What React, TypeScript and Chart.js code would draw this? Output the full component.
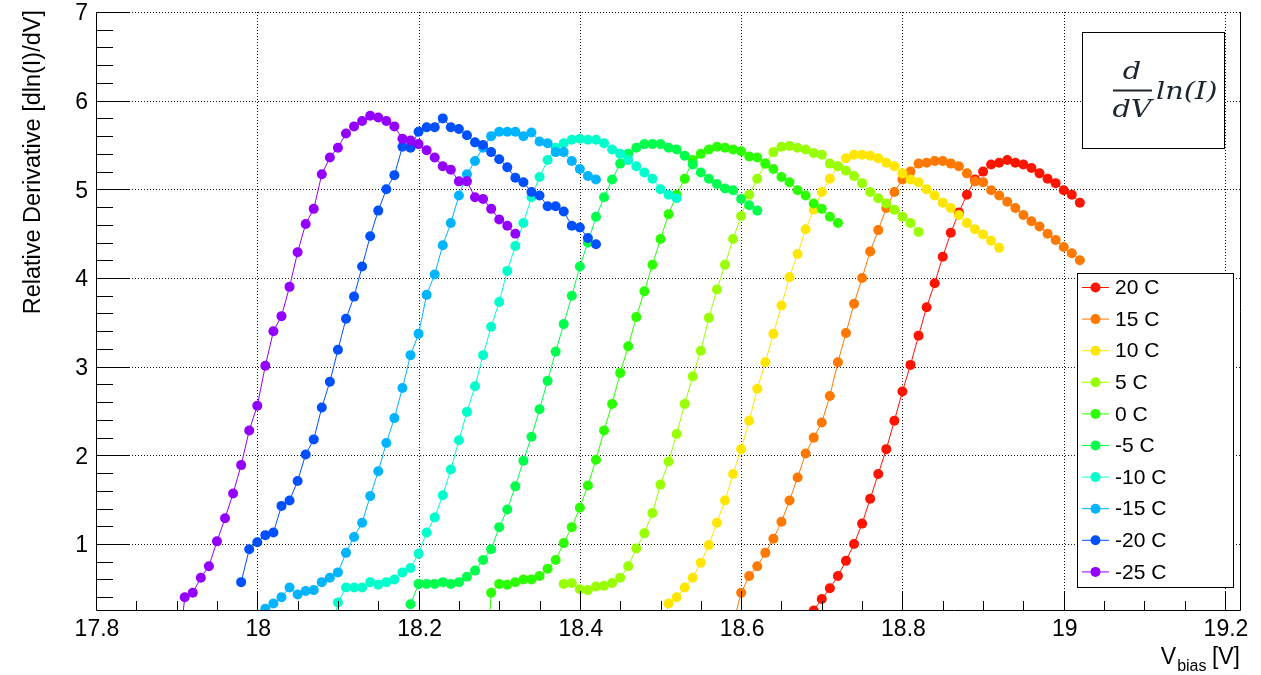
import React, { useEffect, useRef } from "react";
import { Chart, registerables } from "chart.js";

Chart.register(...registerables);

// ---------- axis ticks ----------
const xMajorTicks = [17.8, 18.0, 18.2, 18.4, 18.6, 18.8, 19.0, 19.2];
const xTickLabels = ["17.8", "18", "18.2", "18.4", "18.6", "18.8", "19", "19.2"];
const yMajorTicks = [1, 2, 3, 4, 5, 6, 7];
const yTickLabels = ["1", "2", "3", "4", "5", "6", "7"];
const X_MIN = 17.8;
const X_MAX = 19.2186;
const Y_MIN = 0.2557;
const Y_MAX = 7;

// ---------- series ----------
const seriesLabels = ["20 C", "15 C", "10 C", "5 C", "0 C", "-5 C", "-10 C", "-15 C", "-20 C", "-25 C"];
const seriesColors = ["#ff1400", "#ff7800", "#ffe600", "#99ff00", "#2bff00", "#00ff4d", "#00ffcc", "#00b4ff", "#0050ff", "#9400ff"];

const v20 = [18.69, 18.70, 18.71, 18.72, 18.73, 18.74, 18.75, 18.76, 18.77, 18.78, 18.79, 18.80, 18.81, 18.82, 18.83, 18.84, 18.85, 18.86, 18.87, 18.88, 18.89, 18.90, 18.91, 18.92, 18.93, 18.94, 18.95, 18.96, 18.97, 18.98, 18.99, 19.00, 19.01, 19.02];
const d20 = [0.25, 0.38, 0.50, 0.64, 0.81, 1.00, 1.23, 1.51, 1.79, 2.07, 2.39, 2.72, 3.02, 3.35, 3.67, 3.94, 4.24, 4.51, 4.74, 4.94, 5.11, 5.20, 5.28, 5.30, 5.33, 5.30, 5.28, 5.24, 5.18, 5.12, 5.07, 4.99, 4.94, 4.85];

const v15 = [18.59, 18.60, 18.61, 18.62, 18.63, 18.64, 18.65, 18.66, 18.67, 18.68, 18.69, 18.70, 18.71, 18.72, 18.73, 18.74, 18.75, 18.76, 18.77, 18.78, 18.79, 18.80, 18.81, 18.82, 18.83, 18.84, 18.85, 18.86, 18.87, 18.88, 18.89, 18.90, 18.91, 18.92, 18.93, 18.94, 18.95, 18.96, 18.97, 18.98, 18.99, 19.00, 19.01, 19.02];
const d15 = [0.10, 0.45, 0.64, 0.75, 0.90, 1.06, 1.25, 1.49, 1.75, 2.02, 2.20, 2.37, 2.67, 3.05, 3.38, 3.71, 4.00, 4.30, 4.54, 4.79, 4.97, 5.11, 5.20, 5.29, 5.30, 5.32, 5.32, 5.29, 5.26, 5.18, 5.09, 5.08, 4.99, 4.93, 4.86, 4.79, 4.71, 4.64, 4.58, 4.50, 4.43, 4.35, 4.28, 4.20];

const v10 = [18.50, 18.51, 18.52, 18.53, 18.54, 18.55, 18.56, 18.57, 18.58, 18.59, 18.60, 18.61, 18.62, 18.63, 18.64, 18.65, 18.66, 18.67, 18.68, 18.69, 18.70, 18.71, 18.72, 18.73, 18.74, 18.75, 18.76, 18.77, 18.78, 18.79, 18.80, 18.81, 18.82, 18.83, 18.84, 18.85, 18.86, 18.87, 18.88, 18.89, 18.90, 18.91, 18.92];
const d10 = [-0.10, 0.33, 0.40, 0.51, 0.62, 0.79, 0.99, 1.24, 1.49, 1.79, 2.07, 2.39, 2.75, 3.05, 3.37, 3.69, 4.01, 4.27, 4.55, 4.77, 4.97, 5.12, 5.26, 5.35, 5.39, 5.39, 5.38, 5.35, 5.30, 5.26, 5.18, 5.11, 5.08, 5.00, 4.93, 4.85, 4.79, 4.71, 4.62, 4.55, 4.49, 4.42, 4.34];

const v5 = [18.38, 18.39, 18.40, 18.41, 18.42, 18.43, 18.44, 18.45, 18.46, 18.47, 18.48, 18.49, 18.50, 18.51, 18.52, 18.53, 18.54, 18.55, 18.56, 18.57, 18.58, 18.59, 18.60, 18.61, 18.62, 18.63, 18.64, 18.65, 18.66, 18.67, 18.68, 18.69, 18.70, 18.71, 18.72, 18.73, 18.74, 18.75, 18.76, 18.77, 18.78, 18.79, 18.80, 18.81, 18.82];
const d5 = [0.55, 0.56, 0.49, 0.48, 0.52, 0.53, 0.56, 0.62, 0.75, 0.95, 1.12, 1.35, 1.67, 1.93, 2.24, 2.58, 2.89, 3.18, 3.55, 3.87, 4.15, 4.44, 4.70, 4.94, 5.12, 5.29, 5.42, 5.48, 5.49, 5.47, 5.45, 5.41, 5.39, 5.29, 5.26, 5.21, 5.15, 5.07, 4.97, 4.90, 4.84, 4.77, 4.69, 4.62, 4.52];

const v0 = [18.28, 18.29, 18.30, 18.31, 18.32, 18.33, 18.34, 18.35, 18.36, 18.37, 18.38, 18.39, 18.40, 18.41, 18.42, 18.43, 18.44, 18.45, 18.46, 18.47, 18.48, 18.49, 18.50, 18.51, 18.52, 18.53, 18.54, 18.55, 18.56, 18.57, 18.58, 18.59, 18.60, 18.61, 18.62, 18.63, 18.64, 18.65, 18.66, 18.67, 18.68, 18.69, 18.70, 18.71, 18.72];
const d0 = [-1.00, 0.45, 0.55, 0.54, 0.57, 0.60, 0.60, 0.64, 0.72, 0.82, 1.01, 1.19, 1.41, 1.66, 1.95, 2.28, 2.58, 2.93, 3.23, 3.56, 3.85, 4.15, 4.44, 4.72, 4.94, 5.12, 5.33, 5.40, 5.45, 5.48, 5.47, 5.45, 5.43, 5.37, 5.36, 5.29, 5.23, 5.14, 5.08, 4.99, 4.93, 4.84, 4.78, 4.69, 4.62];

const vM5 = [18.19, 18.20, 18.21, 18.22, 18.23, 18.24, 18.25, 18.26, 18.27, 18.28, 18.29, 18.30, 18.31, 18.32, 18.33, 18.34, 18.35, 18.36, 18.37, 18.38, 18.39, 18.40, 18.41, 18.42, 18.43, 18.44, 18.45, 18.46, 18.47, 18.48, 18.49, 18.50, 18.51, 18.52, 18.53, 18.54, 18.55, 18.56, 18.57, 18.58, 18.59, 18.60, 18.61, 18.62];
const dM5 = [0.32, 0.55, 0.55, 0.55, 0.57, 0.55, 0.57, 0.63, 0.70, 0.82, 0.94, 1.19, 1.39, 1.65, 1.94, 2.21, 2.52, 2.84, 3.17, 3.48, 3.80, 4.13, 4.40, 4.69, 4.91, 5.11, 5.29, 5.40, 5.47, 5.51, 5.51, 5.51, 5.47, 5.45, 5.38, 5.28, 5.19, 5.12, 5.06, 5.01, 4.99, 4.89, 4.82, 4.76];

const vM10 = [18.09, 18.10, 18.11, 18.12, 18.13, 18.14, 18.15, 18.16, 18.17, 18.18, 18.19, 18.20, 18.21, 18.22, 18.23, 18.24, 18.25, 18.26, 18.27, 18.28, 18.29, 18.30, 18.31, 18.32, 18.33, 18.34, 18.35, 18.36, 18.37, 18.38, 18.39, 18.40, 18.41, 18.42, 18.43, 18.44, 18.45, 18.46, 18.47, 18.48, 18.49, 18.50, 18.51, 18.52];
const dM10 = [-0.10, 0.34, 0.51, 0.51, 0.51, 0.57, 0.54, 0.57, 0.60, 0.68, 0.73, 0.89, 1.13, 1.30, 1.55, 1.84, 2.17, 2.49, 2.78, 3.13, 3.45, 3.73, 4.08, 4.36, 4.62, 4.91, 5.14, 5.33, 5.47, 5.52, 5.56, 5.57, 5.56, 5.56, 5.52, 5.45, 5.40, 5.33, 5.26, 5.19, 5.12, 5.00, 4.94, 4.90];

const vM15 = [18.01, 18.02, 18.03, 18.04, 18.05, 18.06, 18.07, 18.08, 18.09, 18.10, 18.11, 18.12, 18.13, 18.14, 18.15, 18.16, 18.17, 18.18, 18.19, 18.20, 18.21, 18.22, 18.23, 18.24, 18.25, 18.26, 18.27, 18.28, 18.29, 18.30, 18.31, 18.32, 18.33, 18.34, 18.35, 18.36, 18.37, 18.38, 18.39, 18.40, 18.41, 18.42];
const dM15 = [0.27, 0.33, 0.40, 0.51, 0.43, 0.47, 0.48, 0.57, 0.62, 0.68, 0.90, 1.08, 1.24, 1.54, 1.82, 2.14, 2.42, 2.76, 3.13, 3.37, 3.81, 4.04, 4.37, 4.62, 4.93, 5.17, 5.32, 5.47, 5.60, 5.65, 5.65, 5.65, 5.60, 5.64, 5.54, 5.52, 5.42, 5.42, 5.32, 5.23, 5.15, 5.11];

const vM20 = [17.98, 17.99, 18.00, 18.01, 18.02, 18.03, 18.04, 18.05, 18.06, 18.07, 18.08, 18.09, 18.10, 18.11, 18.12, 18.13, 18.14, 18.15, 18.16, 18.17, 18.18, 18.19, 18.20, 18.21, 18.22, 18.23, 18.24, 18.25, 18.26, 18.27, 18.28, 18.29, 18.30, 18.31, 18.32, 18.33, 18.34, 18.35, 18.36, 18.37, 18.38, 18.39, 18.40, 18.41, 18.42];
const dM20 = [0.57, 0.94, 1.02, 1.10, 1.13, 1.43, 1.49, 1.71, 2.01, 2.18, 2.54, 2.83, 3.19, 3.54, 3.79, 4.13, 4.47, 4.76, 5.00, 5.16, 5.48, 5.47, 5.65, 5.70, 5.70, 5.80, 5.70, 5.68, 5.61, 5.53, 5.50, 5.42, 5.34, 5.25, 5.13, 5.08, 4.97, 4.93, 4.81, 4.81, 4.75, 4.59, 4.57, 4.45, 4.38];

const vM25 = [17.90, 17.91, 17.92, 17.93, 17.94, 17.95, 17.96, 17.97, 17.98, 17.99, 18.00, 18.01, 18.02, 18.03, 18.04, 18.05, 18.06, 18.07, 18.08, 18.09, 18.10, 18.11, 18.12, 18.13, 18.14, 18.15, 18.16, 18.17, 18.18, 18.19, 18.20, 18.21, 18.22, 18.23, 18.24, 18.25, 18.26, 18.27, 18.28, 18.29, 18.30, 18.31, 18.32];
const dM25 = [-0.50, 0.40, 0.45, 0.62, 0.75, 1.03, 1.29, 1.57, 1.89, 2.28, 2.56, 3.01, 3.40, 3.57, 3.90, 4.29, 4.61, 4.78, 5.17, 5.36, 5.47, 5.63, 5.71, 5.77, 5.83, 5.81, 5.77, 5.71, 5.57, 5.55, 5.51, 5.44, 5.36, 5.26, 5.22, 5.09, 5.09, 4.91, 4.89, 4.78, 4.66, 4.59, 4.50];

const seriesX = [v20, v15, v10, v5, v0, vM5, vM10, vM15, vM20, vM25];
const seriesY = [d20, d15, d10, d5, d0, dM5, dM10, dM15, dM20, dM25];

const FONT = '"Liberation Sans", Arial, Helvetica, sans-serif';
const POINT_R = 5;

function zip(xs: number[], ys: number[]) {
  const n = Math.min(xs.length, ys.length);
  const out: { x: number; y: number }[] = [];
  for (let i = 0; i < n; i++) out.push({ x: xs[i], y: ys[i] });
  return out;
}

const rootStyle = {
  id: "rootStyle",
  beforeDatasetsDraw(chart: any) {
    const { ctx, chartArea, scales } = chart;
    const { left, top, right, bottom } = chartArea;
    const xs = scales.x;
    const ys = scales.y;
    ctx.save();
    ctx.fillStyle = "#ffffff";
    ctx.fillRect(0, 0, chart.width, chart.height);
    ctx.strokeStyle = "#111";
    ctx.lineWidth = 1;
    ctx.setLineDash([1, 2]);
    for (const v of xMajorTicks) {
      if (v <= X_MIN + 1e-9) continue;
      const px = Math.round(xs.getPixelForValue(v)) + 0.5;
      ctx.beginPath();
      ctx.moveTo(px, top);
      ctx.lineTo(px, bottom);
      ctx.stroke();
    }
    for (const v of yMajorTicks) {
      const py = Math.round(ys.getPixelForValue(v)) + 0.5;
      ctx.beginPath();
      ctx.moveTo(left, py);
      ctx.lineTo(right, py);
      ctx.stroke();
    }
    ctx.restore();
  },
  afterDatasetsDraw(chart: any) {
    const { ctx, chartArea, scales } = chart;
    const { left, top, right, bottom } = chartArea;
    const xs = scales.x;
    const ys = scales.y;
    ctx.save();
    ctx.setLineDash([]);
    ctx.strokeStyle = "#000";
    ctx.lineWidth = 1;
    // frame: left, bottom, right
    ctx.beginPath();
    ctx.moveTo(left + 0.5, top);
    ctx.lineTo(left + 0.5, bottom + 0.5);
    ctx.lineTo(right + 0.5, bottom + 0.5);
    ctx.lineTo(right + 0.5, top);
    ctx.stroke();

    // y ticks
    ctx.beginPath();
    for (let i = 0; i < yMajorTicks.length; i++) {
      const py = Math.round(ys.getPixelForValue(yMajorTicks[i])) + 0.5;
      ctx.moveTo(left, py);
      ctx.lineTo(left + 34, py);
    }
    for (let k = 1; k <= 34; k++) {
      const v = k * 0.2;
      if (v < Y_MIN || Math.abs(v - Math.round(v)) < 1e-6) continue;
      const py = Math.round(ys.getPixelForValue(v)) + 0.5;
      ctx.moveTo(left, py);
      ctx.lineTo(left + 17, py);
    }
    // x ticks
    for (let i = 0; i < xMajorTicks.length; i++) {
      const px = Math.round(xs.getPixelForValue(xMajorTicks[i])) + 0.5;
      ctx.moveTo(px, bottom);
      ctx.lineTo(px, bottom - 19);
    }
    for (let k = 0; k <= 28; k++) {
      if (k % 4 === 0) continue;
      const v = X_MIN + k * 0.05;
      const px = Math.round(xs.getPixelForValue(v)) + 0.5;
      ctx.moveTo(px, bottom);
      ctx.lineTo(px, bottom - 9);
    }
    ctx.stroke();

    // tick labels
    ctx.fillStyle = "#000";
    ctx.font = `23px ${FONT}`;
    ctx.textAlign = "right";
    ctx.textBaseline = "middle";
    for (let i = 0; i < yMajorTicks.length; i++) {
      const py = ys.getPixelForValue(yMajorTicks[i]);
      ctx.fillText(yTickLabels[i], 88, py + 2);
    }
    ctx.textAlign = "center";
    ctx.textBaseline = "alphabetic";
    for (let i = 0; i < xMajorTicks.length; i++) {
      const px = xs.getPixelForValue(xMajorTicks[i]);
      ctx.fillText(xTickLabels[i], px + 1, 636);
    }

    // y title
    ctx.save();
    ctx.translate(40, 10);
    ctx.rotate(-Math.PI / 2);
    ctx.font = `23.5px ${FONT}`;
    ctx.textAlign = "right";
    ctx.textBaseline = "alphabetic";
    ctx.fillText("Relative Derivative [dln(I)/dV]", 0, 0);
    ctx.restore();

    // x title  V_bias [V]
    ctx.textAlign = "left";
    ctx.textBaseline = "alphabetic";
    ctx.font = `23px ${FONT}`;
    const wV = ctx.measureText("V").width;
    const wBr = ctx.measureText(" [V]").width;
    ctx.font = `16px ${FONT}`;
    const wSub = ctx.measureText("bias").width;
    let xx = 1240 - (wV + wSub + wBr);
    ctx.font = `23px ${FONT}`;
    ctx.fillText("V", xx, 664);
    xx += wV;
    ctx.font = `16px ${FONT}`;
    ctx.fillText("bias", xx + 1, 671);
    xx += wSub;
    ctx.font = `23px ${FONT}`;
    ctx.fillText(" [V]", xx, 664);

    // legend box
    const lx0 = 1077, ly0 = 273, lx1 = 1233, ly1 = 587;
    ctx.fillStyle = "#fff";
    ctx.fillRect(lx0, ly0, lx1 - lx0, ly1 - ly0);
    ctx.strokeStyle = "#000";
    ctx.lineWidth = 1;
    ctx.strokeRect(lx0 + 0.5, ly0 + 0.5, lx1 - lx0, ly1 - ly0);
    chart.data.datasets.forEach((ds: any, i: number) => {
      const cy = 287.5 + i * 31.6;
      ctx.strokeStyle = ds.borderColor;
      ctx.lineWidth = 1;
      ctx.beginPath();
      ctx.moveTo(1082, cy);
      ctx.lineTo(1109, cy);
      ctx.stroke();
      ctx.fillStyle = ds.pointBackgroundColor;
      ctx.beginPath();
      ctx.arc(1095.5, cy, POINT_R, 0, Math.PI * 2);
      ctx.fill();
      ctx.fillStyle = "#000";
      ctx.font = `21px ${FONT}`;
      ctx.textAlign = "left";
      ctx.textBaseline = "middle";
      ctx.fillText(ds.label, 1115, cy + 1);
    });

    // formula box
    const fx0 = 1082, fy0 = 32, fx1 = 1224, fy1 = 148;
    ctx.fillStyle = "#fff";
    ctx.fillRect(fx0, fy0, fx1 - fx0, fy1 - fy0);
    ctx.strokeStyle = "#000";
    ctx.strokeRect(fx0 + 0.5, fy0 + 0.5, fx1 - fx0, fy1 - fy0);
    ctx.fillStyle = "#1c2630";
    ctx.font = `italic 25px "DejaVu Serif", "Liberation Serif", serif`;
    ctx.textBaseline = "alphabetic";
    ctx.save();
    ctx.translate(1132, 0);
    ctx.scale(1.15, 1);
    ctx.textAlign = "center";
    ctx.fillText("d", 0, 79);
    ctx.fillText("dV", 0, 117);
    ctx.restore();
    ctx.fillRect(1113, 89.5, 39, 2);
    ctx.save();
    ctx.translate(1156, 0);
    ctx.scale(1.15, 1);
    ctx.textAlign = "left";
    ctx.fillText("ln(I)", 0, 99);
    ctx.restore();
    ctx.restore();
  },
};

export default function App() {
  const canvasRef = useRef<HTMLCanvasElement | null>(null);

  useEffect(() => {
    const canvas = canvasRef.current;
    if (!canvas) return;
    const datasets = seriesLabels.map((label, i) => ({
      label,
      data: zip(seriesX[i], seriesY[i]),
      borderColor: seriesColors[i],
      backgroundColor: seriesColors[i],
      pointBackgroundColor: seriesColors[i],
      pointBorderColor: seriesColors[i],
      pointBorderWidth: 0,
      pointRadius: POINT_R,
      pointHoverRadius: POINT_R,
      borderWidth: 1,
      showLine: true,
      fill: false,
      tension: 0,
      clip: 0,
      order: seriesLabels.length - i,
    }));
    const chart = new Chart(canvas, {
      type: "line",
      data: { datasets },
      options: {
        responsive: false,
        animation: false,
        devicePixelRatio: 1,
        events: [],
        layout: { padding: { left: 96, top: 12, right: 21, bottom: 65 } },
        plugins: { legend: { display: false }, tooltip: { enabled: false } },
        scales: {
          x: { type: "linear", display: false, min: X_MIN, max: X_MAX },
          y: { type: "linear", display: false, min: Y_MIN, max: Y_MAX },
        },
      },
      plugins: [rootStyle],
    } as any);
    return () => chart.destroy();
  }, []);

  return (
    <div style={{ position: "fixed", left: 0, top: 0, width: 1261, height: 675, background: "#fff" }}>
      <canvas ref={canvasRef} width={1261} height={675} style={{ display: "block", width: 1261, height: 675 }} />
    </div>
  );
}
